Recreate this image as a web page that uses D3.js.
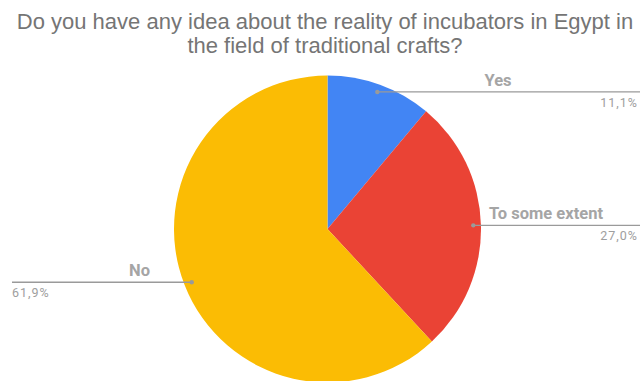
<!DOCTYPE html>
<html>
<head>
<meta charset="utf-8">
<script src="https://cdn.jsdelivr.net/npm/d3@7"></script>
<style>
  html, body { margin: 0; padding: 0; background: #fff; }
  svg { display: block; }
</style>
</head>
<body>
<svg id="chart" width="640" height="381"></svg>
<script>
// Survey answers, in drawing order clockwise from 12 o'clock
const categories = ["Yes", "To some extent", "No"];
const values = [11.1, 27.0, 61.9];
const percentLabels = ["11,1%", "27,0%", "61,9%"];
const colors = ["#4285F4", "#EA4335", "#FBBC04"];
const titleLines = [
  "Do you have any idea about the reality of incubators in Egypt in",
  "the field of traditional crafts?"
];

const width = 640, height = 381;
const cx = 327.5, cy = 229, radius = 153.5;
const svg = d3.select("#chart");

// Title
svg.append("g")
  .selectAll("text")
  .data(titleLines)
  .join("text")
  .attr("x", 325)
  .attr("y", (d, i) => 29 + i * 24)
  .attr("text-anchor", "middle")
  .attr("font-family", "Liberation Sans, Arial, sans-serif")
  .attr("font-size", 22)
  .attr("fill", "#757575")
  .text(d => d);

const data = categories.map((c, i) => ({ name: c, value: values[i], pct: percentLabels[i], color: colors[i] }));

const pie = d3.pie().value(d => d.value).sort(null);
const arcs = pie(data);
const arc = d3.arc().innerRadius(0).outerRadius(radius);
const labelArc = d3.arc().innerRadius(radius * 0.95).outerRadius(radius * 0.95);

const g = svg.append("g").attr("transform", `translate(${cx},${cy})`);

g.selectAll("path.slice")
  .data(arcs)
  .join("path")
  .attr("class", "slice")
  .attr("d", arc)
  .attr("fill", d => d.data.color);

// Leader lines run horizontally from a dot inside each slice to the chart edge
const labels = svg.append("g");
arcs.forEach(a => {
  const [px, py] = labelArc.centroid(a);
  const x0 = cx + px, y0 = cy + py;
  const mid = (a.startAngle + a.endAngle) / 2;
  const right = Math.sin(mid) > 0;
  const x1 = right ? 640 : 12;

  labels.append("line")
    .attr("x1", x0).attr("y1", y0)
    .attr("x2", x1).attr("y2", y0)
    .attr("stroke", "#9a9a9a")
    .attr("stroke-width", 1.3);
  labels.append("circle")
    .attr("cx", x0).attr("cy", y0).attr("r", 2.2)
    .attr("fill", "#9a9a9a");

  // Category name above the line
  const isYes = a.data.name === "Yes";
  labels.append("text")
    .attr("x", right ? (isYes ? 498 : 489) : 150)
    .attr("y", y0 - 6)
    .attr("text-anchor", right ? (isYes ? "middle" : "start") : "end")
    .attr("font-family", "Roboto, Arial, sans-serif")
    .attr("font-weight", "bold")
    .attr("font-size", 16.5)
    .attr("fill", "#a5a5a5")
    .text(a.data.name);

  // Percentage below the line, flush with the line's outer end
  labels.append("text")
    .attr("x", right ? 638 : 12)
    .attr("y", y0 + 15)
    .attr("text-anchor", right ? "end" : "start")
    .attr("font-family", "Roboto, Arial, sans-serif")
    .attr("font-size", 12.5)
    .attr("letter-spacing", 1)
    .attr("fill", "#9e9e9e")
    .text(a.data.pct);
});
</script>
</body>
</html>
